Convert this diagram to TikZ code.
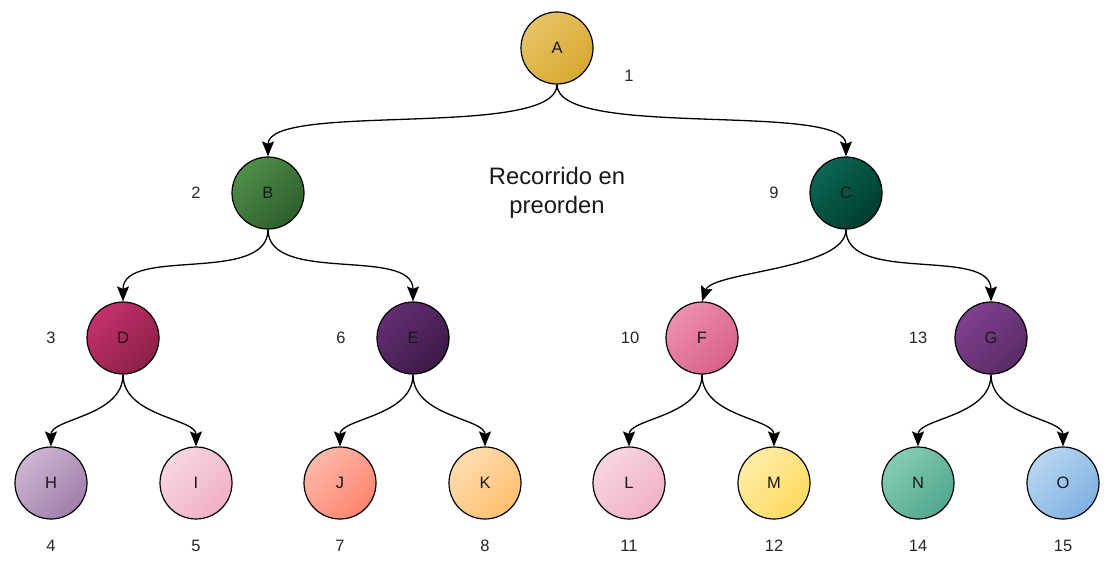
\documentclass[tikz,border=0pt]{standalone}
\usepackage{fontspec}
\setmainfont{Liberation Sans}
\usetikzlibrary{arrows.meta,shadings}
\definecolor{aL}{HTML}{E6C466}\definecolor{aD}{HTML}{D8A830}
\definecolor{bL}{HTML}{4E8E48}\definecolor{bD}{HTML}{2E5E2C}
\definecolor{cL}{HTML}{0A6652}\definecolor{cD}{HTML}{003C32}
\definecolor{dL}{HTML}{C4306C}\definecolor{dD}{HTML}{8C2048}
\definecolor{eL}{HTML}{632E72}\definecolor{eD}{HTML}{3C1A48}
\definecolor{fL}{HTML}{EC90AE}\definecolor{fD}{HTML}{D8608A}
\definecolor{gL}{HTML}{80408E}\definecolor{gD}{HTML}{5A2A66}
\definecolor{hL}{HTML}{CDB6D2}\definecolor{hD}{HTML}{A07EAA}
\definecolor{iL}{HTML}{F8D6E0}\definecolor{iD}{HTML}{F0B0C6}
\definecolor{jL}{HTML}{FFB8A8}\definecolor{jD}{HTML}{FF8470}
\definecolor{kL}{HTML}{FFDCB0}\definecolor{kD}{HTML}{FFC070}
\definecolor{lL}{HTML}{F8D6E0}\definecolor{lD}{HTML}{F0B0C8}
\definecolor{mL}{HTML}{FFECA8}\definecolor{mD}{HTML}{FFDA60}
\definecolor{nL}{HTML}{86CCB4}\definecolor{nD}{HTML}{50A88E}
\definecolor{oL}{HTML}{B8D6F2}\definecolor{oD}{HTML}{80B2E0}
\tikzset{
  nd/.style 2 args={circle, draw=black, line width=1.2pt, minimum size=72pt, inner sep=0pt,
    top color=#1, bottom color=#2, shading angle=45, text=black!90,
    font=\fontsize{16.5}{19}\selectfont},
  num/.style={font=\fontsize{16.5}{19}\selectfont, text=black!85},
  edge/.style={draw=black, line width=1.3pt, -{Stealth[length=15pt,width=12pt,inset=2.5pt]}}
}
\begin{document}
\begin{tikzpicture}[x=1pt,y=-1pt]
\path[use as bounding box] (0,0) rectangle (1112,567);
% nodes
\node[nd={aL}{aD}] (A) at (557,48) {A};
\node[nd={bL}{bD}] (B) at (268,193) {B};
\node[nd={cL}{cD}] (C) at (846,193) {C};
\node[nd={dL}{dD}] (D) at (123,338) {D};
\node[nd={eL}{eD}] (E) at (413,338) {E};
\node[nd={fL}{fD}] (F) at (702,338) {F};
\node[nd={gL}{gD}] (G) at (991,338) {G};
\node[nd={hL}{hD}] (H) at (51,483) {H};
\node[nd={iL}{iD}] (I) at (196,483) {I};
\node[nd={jL}{jD}] (J) at (340,483) {J};
\node[nd={kL}{kD}] (K) at (485,483) {K};
\node[nd={lL}{lD}] (L) at (629,483) {L};
\node[nd={mL}{mD}] (M) at (774,483) {M};
\node[nd={nL}{nD}] (N) at (918,483) {N};
\node[nd={oL}{oD}] (O) at (1063,483) {O};
% numbers
\node[num] (n1) at (629,76) {1};
\node[num] (n2) at (196,193) {2};
\node[num] (n9) at (774,193) {9};
\node[num] (n3) at (51,338) {3};
\node[num] (n6) at (341,338) {6};
\node[num] (n10) at (630,338) {10};
\node[num] (n13) at (918,338) {13};
\node[num] (n4) at (51,546) {4};
\node[num] (n5) at (196,546) {5};
\node[num] (n7) at (340,546) {7};
\node[num] (n8) at (485,546) {8};
\node[num] (n11) at (629,546) {11};
\node[num] (n12) at (774,546) {12};
\node[num] (n14) at (918,546) {14};
\node[num] (n15) at (1063,546) {15};
% title
\node[font=\fontsize{23.8}{29}\selectfont, align=center, text=black!90] (title) at (557,193) {Recorrido en\\preorden};
% edges
\foreach \p/\c in {A/B,A/C,B/D,B/E,C/G}{
  \draw[edge] (\p.south) .. controls ([yshift=-55pt]\p.south) and ([yshift=55pt]\c.north) .. (\c.north);
}
\draw[edge] (C.south) .. controls ([yshift=-40pt]C.south) and ([xshift=10pt,yshift=30pt]F.north) .. (F.north);
\foreach \p/\c in {D/H,D/I,E/J,E/K,F/L,F/M,G/N,G/O}{
  \draw[edge] (\p.south) .. controls ([yshift=-42pt]\p.south) and ([yshift=28pt]\c.north) .. (\c.north);
}
\end{tikzpicture}
\end{document}
